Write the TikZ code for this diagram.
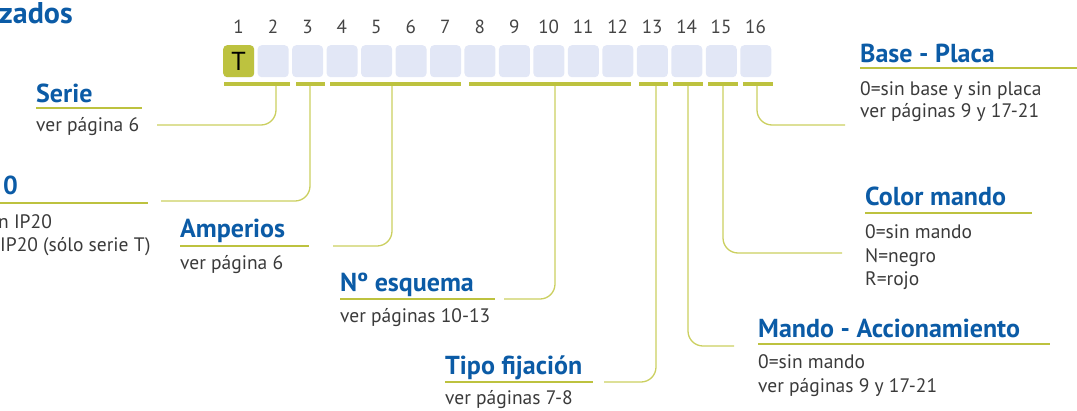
\documentclass[tikz,border=0pt]{standalone}
\usepackage{fontspec}
\setmainfont{PT Sans}
\definecolor{tblue}{HTML}{0B5BA6}
\definecolor{olive}{HTML}{BDC23F}
\definecolor{lineg}{HTML}{CBCF60}
\definecolor{boxc}{HTML}{E2E7F6}
\definecolor{txt}{HTML}{3A3A3A}
\definecolor{numc}{HTML}{444444}
\begin{document}
\begin{tikzpicture}[x=1pt,y=-1pt,
  title/.style={anchor=base west, inner sep=0, font=\fontsize{26}{26}\selectfont\bfseries, text=tblue},
  body/.style={anchor=base west, inner sep=0, font=\fontsize{19.5}{19.5}\selectfont, text=txt},
  uline/.style={draw=olive, line width=2.5},
  bar/.style={fill=olive, draw=none, inner sep=0, minimum height=4, anchor=north west},
  conn/.style={draw=lineg, line width=1.3, rounded corners=15},
  cell/.style={fill=boxc, draw=none, rounded corners=4, inner sep=0, minimum width=31, minimum height=32, anchor=north west},
  digit/.style={anchor=base, inner sep=0, font=\fontsize{19}{19}\selectfont, text=numc}]
\useasboundingbox (0,0) rectangle (1077,410);
\clip (0,0) rectangle (1077,410);
% header fragment
\node[anchor=base west, inner sep=0, font=\fontsize{30}{30}\selectfont\bfseries, text=tblue] (hdr) at (-1,23) {zados};
% cells and digits
\foreach \i in {1,...,16}{
  \pgfmathsetmacro{\xx}{223+(\i-1)*34.47}
  \node[cell] (c\i) at (\xx,45) {};
  \node[digit] (d\i) at (\xx+15.5,33) {\i};
}
\node[cell, fill=olive] (c1) at (223,45) {};
\node[inner sep=0, font=\fontsize{26}{26}\selectfont, text=black] (tt) at (c1.center) {T};
% bars
\node[bar, minimum width=66] (bA) at (224,82) {};
\node[bar, minimum width=29] (bB) at (296,82) {};
\node[bar, minimum width=131] (bC) at (330,82) {};
\node[bar, minimum width=162] (bD) at (469,82) {};
\node[bar, minimum width=29] (bE) at (639,82) {};
\node[bar, minimum width=30] (bF) at (673,82) {};
\node[bar, minimum width=30] (bG) at (708,82) {};
\node[bar, minimum width=30] (bH) at (743,82) {};
% connector start points
\coordinate (kA) at (276,86);
\coordinate (kB) at (310,86);
\coordinate (kC) at (392,86);
\coordinate (kD) at (555,86);
\coordinate (kE) at (656,86);
\coordinate (kF) at (688,86);
\coordinate (kG) at (723,86);
\coordinate (kH) at (757,86);
% connector free ends
\coordinate (eA) at (157,125);
\coordinate (eB) at (161,201);
\coordinate (eC) at (333,246);
\coordinate (eD) at (504,299);
\coordinate (eE) at (604,382);
\coordinate (eF) at (734,346);
\coordinate (eG) at (842,253);
\coordinate (eH) at (845,125);
\foreach \k in {A,B,C,D,E,F,G,H}{\draw[conn] (k\k) |- (e\k);}
% Serie
\node[title] (tSerie) at (36,102) {Serie};
\draw[uline] (36,108) -- (142,108);
\node[body] (bSerie) at (36,131) {ver página 6};
% IP20 block (cut at the left edge)
\node[anchor=base east, inner sep=0, font=\fontsize{26}{26}\selectfont\bfseries, text=tblue] (tIP) at (18,194) {0};
\draw[uline] (0,203) -- (148,203);
\node[body] (bIP1) at (-2,228) {n IP20};
\node[body] (bIP2) at (0,251) {IP20 (sólo serie T)};
% Amperios
\node[title] (tAmp) at (180,237) {Amperios};
\draw[uline] (180,246) -- (309,246);
\node[body] (bAmp) at (180,269) {ver página 6};
% No esquema
\node[title] (tEsq) at (340,291) {Nº esquema};
\draw[uline] (340,299) -- (495,299);
\node[body] (bEsq) at (340,322) {ver páginas 10-13};
% Tipo fijacion
\node[title] (tFij) at (445,374) {Tipo fijación};
\draw[uline] (445,382) -- (593,382);
\node[body] (bFij) at (445,404) {ver páginas 7-8};
% Base - Placa
\node[title] (tBase) at (860,62) {Base - Placa};
\draw[uline] (860,68) -- (1077,68);
\node[body] (bBase1) at (860,95) {0=sin base y sin placa};
\node[body] (bBase2) at (860,117) {ver páginas 9 y 17-21};
% Color mando
\node[title] (tCol) at (865,205) {Color mando};
\draw[uline] (865,213) -- (1032,213);
\node[body] (bCol1) at (865,238) {0=sin mando};
\node[body] (bCol2) at (865,262) {N=negro};
\node[body] (bCol3) at (865,285) {R=rojo};
% Mando - Accionamiento
\node[title] (tMan) at (758,337) {Mando - Accionamiento};
\draw[uline] (758,344) -- (1050,344);
\node[body] (bMan1) at (758,368) {0=sin mando};
\node[body] (bMan2) at (758,392) {ver páginas 9 y 17-21};
\end{tikzpicture}
\end{document}
